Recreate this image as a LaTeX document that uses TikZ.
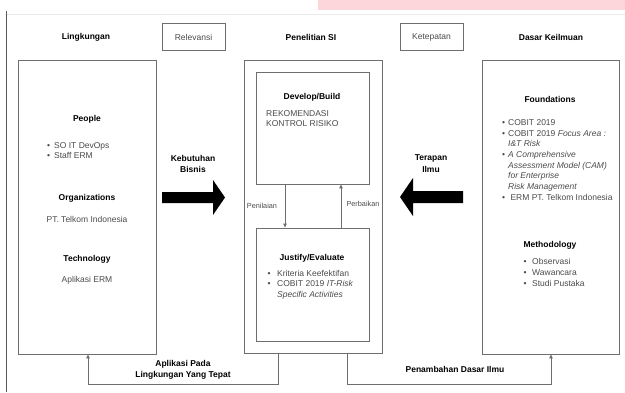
\documentclass[tikz,border=0pt]{standalone}
\usepackage{fontspec}
\setmainfont{Liberation Sans}
\usetikzlibrary{arrows.meta}
\definecolor{bordc}{HTML}{6E6E6E}
\definecolor{txtc}{HTML}{4A4A4A}
\definecolor{pinkc}{HTML}{FDD6DB}
\newcommand\blt[1]{\llap{\textbullet\hspace{#1}}}
\begin{document}
\begin{tikzpicture}[x=1pt,y=-1pt,
  box/.style={draw=bordc, line width=0.8pt, inner sep=0pt},
  head/.style={font=\fontsize{8.5}{10}\selectfont\bfseries, text=black, inner sep=0pt},
  lab/.style={font=\fontsize{8.5}{10}\selectfont, text=txtc, inner sep=0pt},
  body/.style={font=\fontsize{8.5}{10.8}\selectfont, text=txtc, inner sep=0pt, align=left},
  conn/.style={draw=bordc, line width=0.8pt},
  arr/.style={conn, -{Triangle[length=4pt,width=3.5pt]}},
  bigarrow/.style={fill=black, draw=none}]
\useasboundingbox (0,0) rectangle (625,392);
% top decorations
\fill[pinkc] (318,0) rectangle (625,10);
\draw[black!8, line width=0.6pt] (7,14.5) -- (625,14.5);
\draw[black!65, line width=0.9pt] (6,11) -- (6,392);
% top labels
\node[head] (lingk) at (86,37) {Lingkungan};
\node[box, minimum width=63pt, minimum height=27pt, lab] (relev) at (193.5,37) {Relevansi};
\node[head] (penel) at (311,37) {Penelitian SI};
\node[box, minimum width=63pt, minimum height=27pt, lab] (ketep) at (431.5,37) {Ketepatan};
\node[head] (dasar) at (551,37) {Dasar Keilmuan};
% main boxes
\node[box, minimum width=138pt, minimum height=294pt] (env) at (87,207) {};
\node[box, minimum width=138pt, minimum height=293pt] (isr) at (313,206.5) {};
\node[box, minimum width=113pt, minimum height=112pt] (dev) at (312.5,128) {};
\node[box, minimum width=113pt, minimum height=113pt] (just) at (312.5,284.5) {};
\node[box, minimum width=137pt, minimum height=294pt] (kb) at (550.5,207) {};
% left box contents
\node[head] (people) at (87,119) {People};
\node[body, anchor=west] (peoplel) at (54,150.5) {\blt{4pt}SO IT DevOps\\\blt{4pt}Staff ERM};
\node[head] (org) at (87,198) {Organizations};
\node[lab] (orgl) at (87,219) {PT. Telkom Indonesia};
\node[head] (tech) at (87,259) {Technology};
\node[lab] (techl) at (87,280) {Aplikasi ERM};
% center contents
\node[head] (devh) at (312,97) {Develop/Build};
\node[body, anchor=west] (devl) at (266,118.5) {REKOMENDASI\\KONTROL RISIKO};
\node[head] (justh) at (312,258) {Justify/Evaluate};
\node[body, anchor=west] (justl) at (277,284.7) {\blt{6.5pt}Kriteria Keefektifan\\\blt{6.5pt}COBIT 2019 \textit{IT-Risk}\\\textit{Specific Activities}};
% right contents
\node[head] (found) at (550,99) {Foundations};
\node[body, anchor=west, font=\fontsize{8.5}{10.65}\selectfont] (foundl) at (508,160) {\blt{3pt}COBIT 2019\\\blt{3pt}COBIT 2019 \textit{Focus Area :}\\\textit{I\&T Risk}\\\blt{3pt}\textit{A Comprehensive}\\\textit{Assessment Model (CAM)}\\\textit{for Enterprise}\\\textit{Risk Management}\\\blt{3pt}\ ERM PT. Telkom Indonesia};
\node[head] (meth) at (550,245) {Methodology};
\node[body, anchor=west] (methl) at (532,272.7) {\blt{5.5pt}Observasi\\\blt{5.5pt}Wawancara\\\blt{5.5pt}Studi Pustaka};
% big arrows
\node[head, align=center, font=\fontsize{8.5}{11}\selectfont\bfseries] (kebut) at (193,163.5) {Kebutuhan\\Bisnis};
\node[head, align=center, font=\fontsize{8.5}{12.5}\selectfont\bfseries] (terap) at (431,163.5) {Terapan\\Ilmu};
\fill[bigarrow] (162,192) -- (213,192) -- (213,180) -- (225,197.5) -- (213,215) -- (213,203) -- (162,203) -- cycle;
\fill[bigarrow] (463,191) -- (413,191) -- (413,178) -- (400,197) -- (413,216) -- (413,203) -- (463,203) -- cycle;
% inner connectors
\coordinate (cpen) at (285,0);
\coordinate (cper) at (341,0);
\draw[arr] (dev.south -| cpen) -- (just.north -| cpen);
\draw[arr] (just.north -| cper) -- (dev.south -| cper);
\node[lab, font=\fontsize{7.3}{9}\selectfont] (penil) at (262,206) {Penilaian};
\node[lab, font=\fontsize{7.3}{9}\selectfont] (perb) at (363,204) {Perbaikan};
% bottom connectors
\coordinate (bl1) at (278,384);
\coordinate (bl2) at (88,384);
\draw[arr] (isr.south -| bl1) -- (bl1) -- (bl2) -- (env.south -| bl2);
\coordinate (br1) at (347,384);
\coordinate (br2) at (551,384);
\draw[arr] (isr.south -| br1) -- (br1) -- (br2) -- (kb.south -| br2);
\node[head, align=center, font=\fontsize{8.5}{11}\selectfont\bfseries] (aplik) at (183,369.5) {Aplikasi Pada\\Lingkungan Yang Tepat};
\node[head] (penam) at (455,369) {Penambahan Dasar Ilmu};
\end{tikzpicture}
\end{document}
